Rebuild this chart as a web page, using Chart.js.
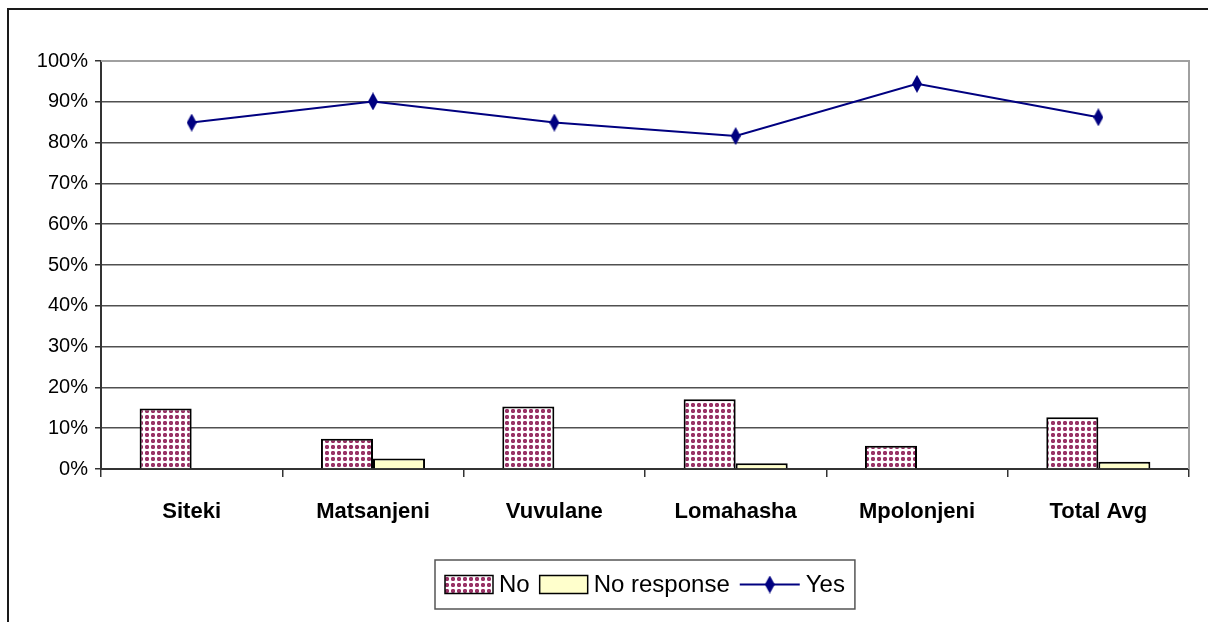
<!DOCTYPE html>
<html>
<head>
<meta charset="utf-8">
<script src="https://cdn.jsdelivr.net/npm/chart.js@4.4.1/dist/chart.umd.min.js"></script>
<style>
  html, body { margin: 0; padding: 0; background: #fff; }
  #wrap { position: relative; width: 1208px; height: 622px; }
</style>
</head>
<body>
<div id="wrap"><canvas id="surveyChart" width="1208" height="622"></canvas></div>
<script>
// Dữ liệu biểu đồ (%)
const categories = ["Siteki", "Matsanjeni", "Vuvulane", "Lomahasha", "Mpolonjeni", "Total Avg"];
const noValues = [14.8, 7.4, 15.3, 17.1, 5.7, 12.7];
const noResponseValues = [null, 2.6, null, 1.4, null, 1.8];
const yesValues = [84.9, 90.1, 84.9, 81.6, 94.4, 86.2];
const yTicks = [0, 10, 20, 30, 40, 50, 60, 70, 80, 90, 100];

const FONT = "'Liberation Sans', Arial, sans-serif";

/* ===== PATTERN & MARKER ===== */
function makeDotPattern() {
  const c = document.createElement("canvas");
  c.width = 6;
  c.height = 6;
  const g = c.getContext("2d");
  g.fillStyle = "#ffffff";
  g.fillRect(0, 0, 6, 6);
  // chấm hình tròn nhỏ 4x4, góc nhạt hơn
  g.fillStyle = "#c98fb0";
  g.fillRect(1, 1, 4, 4);
  g.fillStyle = "#993366";
  g.fillRect(1, 2, 4, 2);
  g.fillRect(2, 1, 2, 4);
  return document.createElement("canvas").getContext("2d").createPattern(c, "repeat");
}

function makeDiamond(w, h, color) {
  const c = document.createElement("canvas");
  c.width = w;
  c.height = h;
  const g = c.getContext("2d");
  g.fillStyle = color;
  g.beginPath();
  g.moveTo(w / 2, 0);
  g.lineTo(w, h / 2);
  g.lineTo(w / 2, h);
  g.lineTo(0, h / 2);
  g.closePath();
  g.fill();
  return c;
}

const dotPattern = makeDotPattern();
const diamond = makeDiamond(10, 18, "#000080");

/* ===== FRAME + LEGEND PLUGIN ===== */
const framePlugin = {
  id: "frame",
  beforeDraw(chart) {
    const ctx = chart.ctx;
    ctx.save();
    // khung ngoài (trái + trên)
    ctx.strokeStyle = "#1a1a1a";
    ctx.lineWidth = 2;
    ctx.beginPath();
    ctx.moveTo(8, chart.height);
    ctx.lineTo(8, 9);
    ctx.lineTo(chart.width, 9);
    ctx.stroke();
    ctx.restore();
  },
  beforeDatasetsDraw(chart) {
    const { ctx, chartArea: a } = chart;
    ctx.save();
    ctx.strokeStyle = "#a0a0a0";
    ctx.lineWidth = 2;
    ctx.beginPath();
    ctx.moveTo(a.left, a.top);
    ctx.lineTo(a.right, a.top);
    ctx.lineTo(a.right, a.bottom);
    ctx.stroke();
    ctx.restore();
  },
  afterDraw(chart) {
    // legend tự vẽ có viền
    const ctx = chart.ctx;
    const a = chart.chartArea;
    const sets = chart.data.datasets;
    ctx.save();
    ctx.font = "24px " + FONT;
    ctx.textBaseline = "middle";
    const swW = 48, swH = 18, lineW = 60, gapIcon = 6, gapItem = 10, padX = 10;
    let total = padX * 2;
    sets.forEach((ds, i) => {
      const iconW = ds.type === "line" ? lineW : swW;
      total += iconW + gapIcon + ctx.measureText(ds.label).width;
      if (i < sets.length - 1) total += gapItem;
    });
    const boxL = Math.round((a.left + a.right) / 2 - total / 2);
    const boxT = 560, boxH = 49;
    const cy = boxT + boxH / 2;
    ctx.strokeStyle = "#555";
    ctx.lineWidth = 1.5;
    ctx.strokeRect(boxL, boxT, total, boxH);

    let x = boxL + padX;
    sets.forEach((ds) => {
      if (ds.type === "line") {
        ctx.strokeStyle = ds.borderColor;
        ctx.lineWidth = 2;
        ctx.beginPath();
        ctx.moveTo(x, cy);
        ctx.lineTo(x + lineW, cy);
        ctx.stroke();
        ctx.drawImage(diamond, x + lineW / 2 - 5, cy - 9);
        x += lineW;
      } else {
        ctx.fillStyle = ds.backgroundColor;
        ctx.fillRect(x, cy - swH / 2, swW, swH);
        ctx.strokeStyle = "#000";
        ctx.lineWidth = 1.5;
        ctx.strokeRect(x, cy - swH / 2, swW, swH);
        x += swW;
      }
      x += gapIcon;
      ctx.fillStyle = "#000";
      ctx.fillText(ds.label, x, cy + 1);
      x += ctx.measureText(ds.label).width + gapItem;
    });
    ctx.restore();
  },
};

/* ===== CHART INIT ===== */
const ctx = document.getElementById("surveyChart").getContext("2d");

const chart = new Chart(ctx, {
  type: "bar",
  data: {
    labels: categories,
    datasets: [
      {
        label: "No",
        data: noValues,
        backgroundColor: dotPattern,
        borderColor: "#000",
        borderWidth: 2,
        borderSkipped: "bottom",
        categoryPercentage: 0.574,
        barPercentage: 1,
        order: 2,
      },
      {
        label: "No response",
        data: noResponseValues,
        backgroundColor: "#ffffcc",
        borderColor: "#000",
        borderWidth: 2,
        borderSkipped: "bottom",
        categoryPercentage: 0.574,
        barPercentage: 1,
        order: 2,
      },
      {
        type: "line",
        label: "Yes",
        data: yesValues,
        borderColor: "#000080",
        borderWidth: 2,
        pointStyle: diamond,
        pointRadius: 8,
        tension: 0,
        fill: false,
        order: 1,
      },
    ],
  },
  options: {
    responsive: false,
    animation: false,
    events: [],
    layout: {
      padding: { top: 61, right: 19, bottom: 0, left: 0 },
    },
    scales: {
      x: {
        offset: true,
        grid: {
          offset: true,
          drawOnChartArea: false,
          drawTicks: true,
          tickLength: 8,
          color: "#333",
          lineWidth: 1.5,
        },
        border: { display: true, color: "#333", width: 2 },
        ticks: {
          color: "#000",
          padding: 22,
          maxRotation: 0,
          font: { family: FONT, size: 22, weight: "bold" },
        },
        afterFit: (scale) => {
          scale.height = 153;
        },
      },
      y: {
        min: 0,
        max: 100,
        afterBuildTicks: (scale) => {
          scale.ticks = yTicks.map((v) => ({ value: v }));
        },
        grid: {
          color: (c) => (c.tick && c.tick.value === 100 ? "#a0a0a0" : "#505050"),
          lineWidth: 1.5,
          drawTicks: true,
          tickLength: 6,
          tickColor: "#333",
        },
        border: { display: true, color: "#333", width: 2 },
        ticks: {
          color: "#000",
          padding: 7,
          font: { family: FONT, size: 20 },
          callback: (v) => v + "%",
        },
        afterFit: (scale) => {
          scale.width = 101;
        },
      },
    },
    plugins: {
      legend: { display: false },
      tooltip: { enabled: false },
    },
  },
  plugins: [framePlugin],
});
</script>
</body>
</html>
